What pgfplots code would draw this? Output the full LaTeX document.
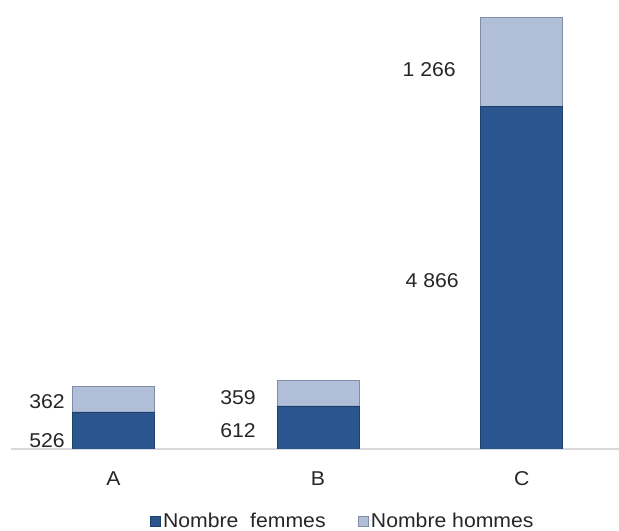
\documentclass[border=0pt]{standalone}
\usepackage{pgfplots}
\pgfplotsset{compat=1.18}
\usepackage{fontspec}
\setmainfont{Liberation Sans}[FakeStretch=1.06]
\definecolor{fem}{RGB}{42,85,142}
\definecolor{femedge}{RGB}{30,62,108}
\definecolor{hom}{RGB}{176,190,216}
\definecolor{homedge}{RGB}{128,140,168}
\definecolor{axgray}{RGB}{217,217,217}
\definecolor{txt}{RGB}{38,38,38}
\tikzset{vlab/.style={anchor=east, inner sep=0pt, font=\fontsize{15pt}{18pt}\selectfont, text=txt}}
\begin{document}
\begin{tikzpicture}
\path[use as bounding box] (-8.25pt,-61.5pt) rectangle (456pt,336.75pt);
\begin{axis}[
  at={(0pt,0pt)}, anchor=south west,
  scale only axis, width=456pt, height=336.75pt,
  xmin=11, xmax=619, ymin=0, ymax=6378,
  ybar stacked, bar width=61.5pt,
  axis x line=bottom, axis y line=none,
  x axis line style={axgray, line width=1.5pt, -},
  xtick={113.5,318,521.7}, xticklabels={A,B,C},
  major tick length=0pt,
  xticklabel style={anchor=center, yshift=-22.1pt, font=\fontsize{15pt}{18pt}\selectfont, text=txt},
  legend style={at={(0.546,-0.160)}, anchor=center, draw=none, fill=none,
    legend columns=2, font=\fontsize{15pt}{18pt}\selectfont, text=txt,
    /tikz/every even column/.append style={column sep=22pt},
    inner sep=0pt},
  legend image code/.code={\draw[#1, line width=0.5pt] (0pt,-3.75pt) rectangle (7.5pt,3.75pt);},
]
\addplot[fill=fem, draw=femedge] coordinates {(113.5,526) (318,612) (521.7,4866)};
\addlegendentry{Nombre\ \ femmes}
\addplot[fill=hom, draw=homedge] coordinates {(113.5,362) (318,359) (521.7,1266)};
\addlegendentry{Nombre hommes}
\node[vlab] at (axis cs:65,121) {526};
\node[vlab] at (axis cs:65,675) {362};
\node[vlab] at (axis cs:256,263) {612};
\node[vlab] at (axis cs:256,732) {359};
\node[vlab] at (axis cs:459,2386) {4\ 866};
\node[vlab] at (axis cs:456,5383) {1\ 266};
\end{axis}
\end{tikzpicture}
\end{document}
